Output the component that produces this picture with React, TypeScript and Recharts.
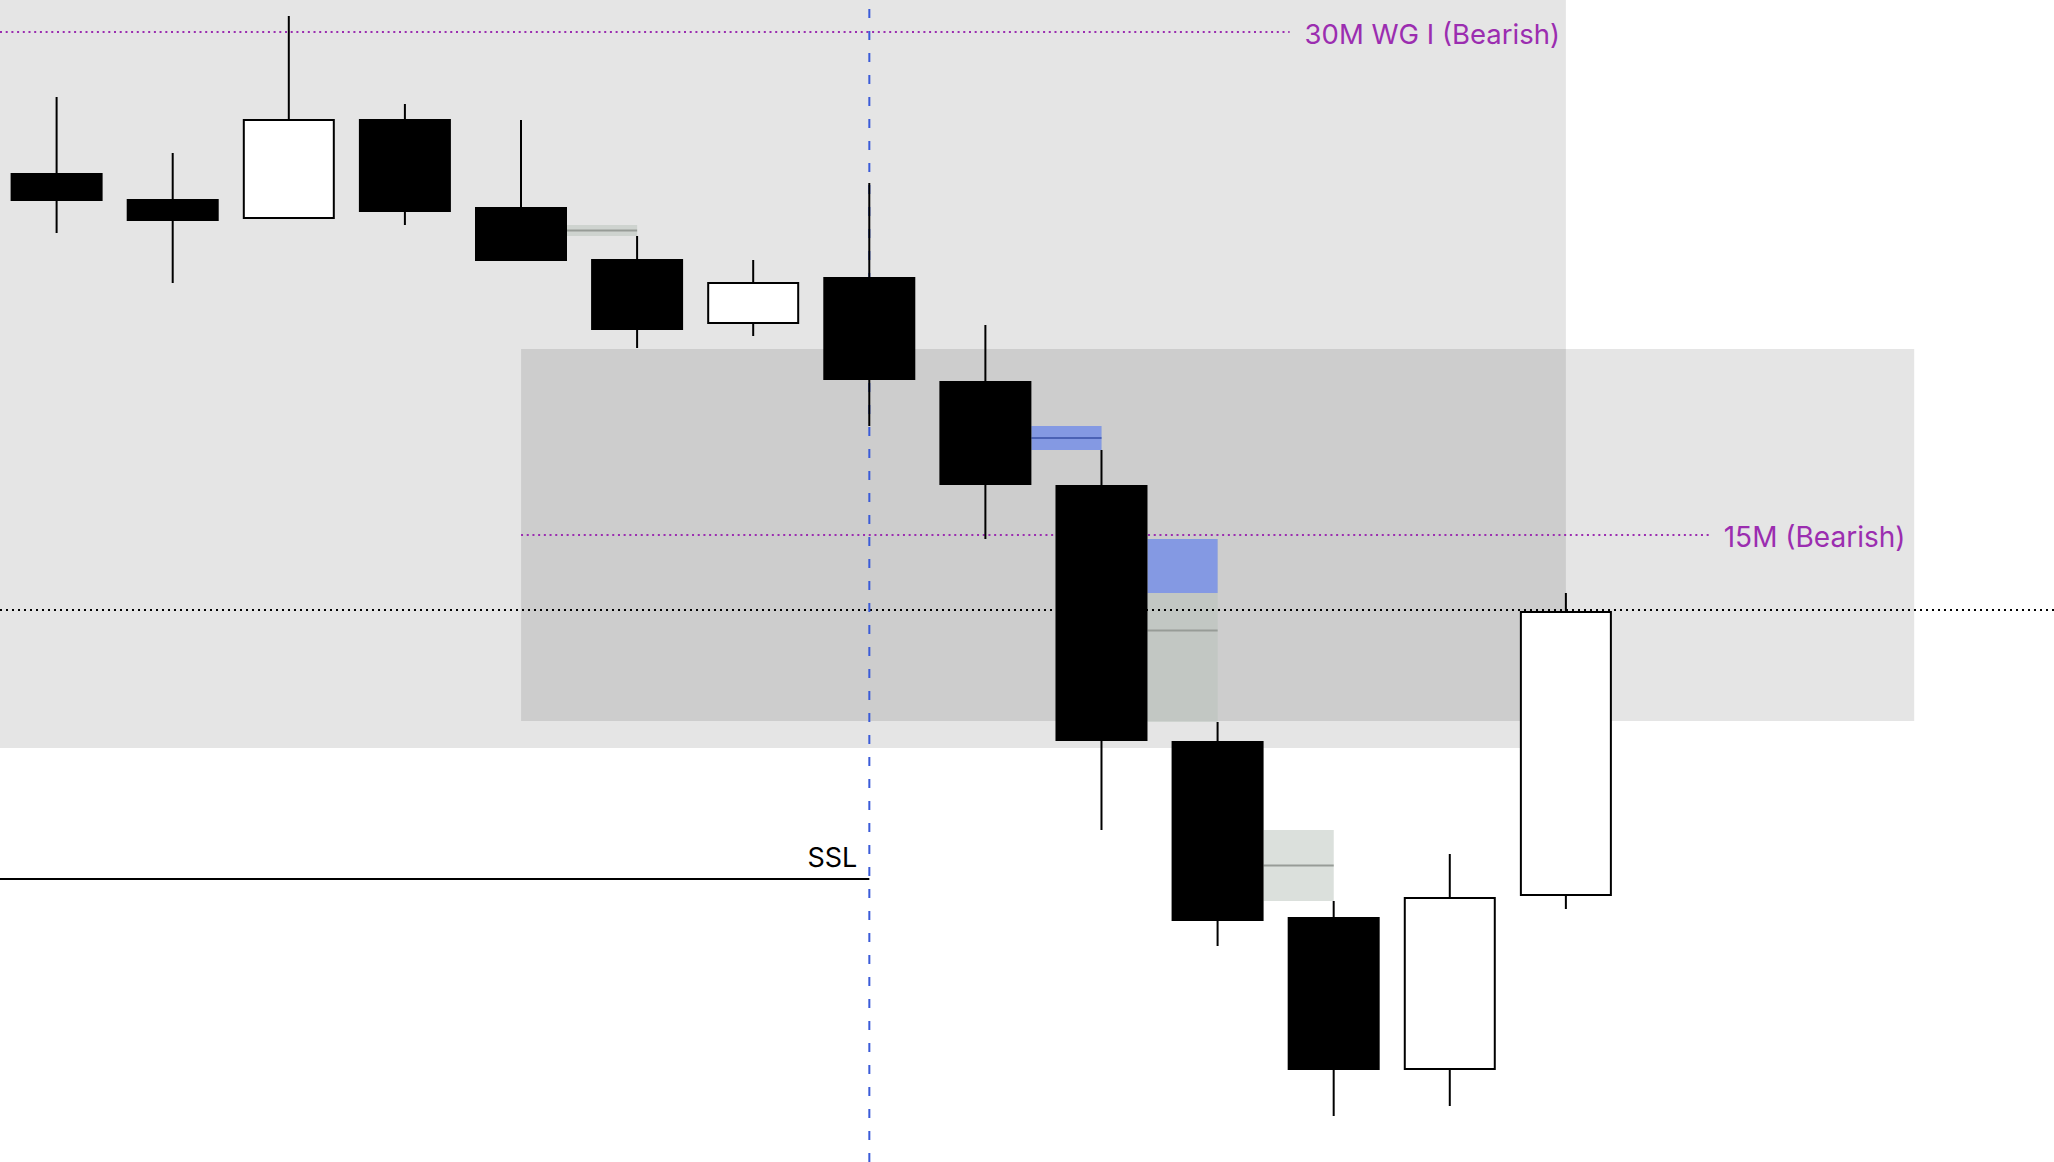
import { ComposedChart, Bar, XAxis, YAxis, ReferenceArea, ReferenceLine } from 'recharts';

const W = 2054;
const H = 1162;

// candles, oldest first (price units are arbitrary)
const candleIdx = [1, 2, 3, 4, 5, 6, 7, 8, 9, 10, 11, 12, 13, 14];
const opens = [98.9, 96.3, 94.3, 104.3, 95.5, 90.3, 83.8, 88.5, 78.1, 67.7, 42.1, 24.5, 9.2, 26.6];
const highs = [106.5, 100.9, 114.6, 105.8, 104.2, 92.6, 90.2, 97.9, 83.7, 71.2, 44.0, 26.1, 30.8, 56.9];
const lows = [92.9, 87.9, 94.3, 93.7, 90.1, 81.4, 82.6, 73.6, 62.3, 33.2, 21.6, 4.6, 5.6, 25.3];
const closes = [96.1, 94.1, 104.3, 95.0, 90.1, 83.2, 88.0, 78.2, 67.7, 42.1, 24.1, 9.2, 26.5, 55.1];

// fair value gaps: candle they open after, range, and how far down they are still unfilled
const fvgAfter = [5, 9, 10, 11];
const fvgHigh = [93.7, 73.6, 62.3, 33.2];
const fvgLow = [92.6, 71.2, 44.0, 26.1];
const fvgOpenTo: (number | null)[] = [null, 71.2, 56.9, null];

// higher timeframe zones: [from candle, to candle, low, high]
const zone30m = [0.512, 14, 41.4, 116.2];
const zone15m = [5, 17, 44.1, 81.3];

// levels
const wg30Level = 113.0;
const wg30End = 11.62;
const m15Level = 62.7;
const m15End = 15.23;
const keyLevel = 55.2;
const sslLevel = 28.3;
const markerCandle = 8;

const X_DOMAIN: [number, number] = [0.512, 18.204];
const Y_DOMAIN: [number, number] = [0, 116.2];
const BODY_HALF = 0.396;

const PURPLE = '#9b2db0';
const FONT = 'Inter, "Liberation Sans", sans-serif';

const data = candleIdx.map((t, i) => ({
  t,
  open: opens[i],
  high: highs[i],
  low: lows[i],
  close: closes[i],
}));

const Candle = (props: any) => {
  const { x, y, width, height, payload } = props;
  const { open, close, high, low } = payload;
  const k = height / (high - low);
  const yAt = (v: number) => y + (high - v) * k;
  const top = yAt(Math.max(open, close));
  const bottom = yAt(Math.min(open, close));
  const cx = x + width / 2;
  const bull = close > open;
  return (
    <g>
      <line x1={cx} x2={cx} y1={y} y2={y + height} stroke="#000" strokeWidth={2} />
      {bull ? (
        <rect x={x + 1} y={top + 1} width={width - 2} height={bottom - top - 2} fill="#fff" stroke="#000" strokeWidth={2} />
      ) : (
        <rect x={x} y={top} width={width} height={bottom - top} fill="#000" />
      )}
    </g>
  );
};

export default function App() {
  return (
    <div style={{ position: 'fixed', left: 0, top: 0, width: W, height: H, background: '#fff' }}>
      <ComposedChart width={W} height={H} data={data} margin={{ top: 0, right: 0, bottom: 0, left: 0 }}>
        <XAxis dataKey="t" type="number" domain={X_DOMAIN} allowDataOverflow hide />
        <YAxis type="number" domain={Y_DOMAIN} allowDataOverflow hide />

        {/* timeframe zones */}
        <ReferenceArea x1={zone30m[0]} x2={zone30m[1]} y1={zone30m[2]} y2={zone30m[3]}
          fill="#000" fillOpacity={0.1} stroke="none" ifOverflow="visible" zIndex={10} />
        <ReferenceArea x1={zone15m[0]} x2={zone15m[1]} y1={zone15m[2]} y2={zone15m[3]}
          fill="#000" fillOpacity={0.1} stroke="none" ifOverflow="visible" zIndex={10} />

        {/* fair value gaps */}
        {fvgAfter.map((c, i) => (
          <ReferenceArea key={`fvg-${i}`} x1={c + BODY_HALF} x2={c + 1} y1={fvgLow[i]} y2={fvgHigh[i]}
            fill="#b8c2ba" fillOpacity={0.5} stroke="none" ifOverflow="visible" zIndex={20} />
        ))}
        {fvgAfter.map((c, i) =>
          fvgOpenTo[i] == null ? null : (
            <ReferenceArea key={`open-${i}`} x1={c + BODY_HALF} x2={c + 1} y1={fvgOpenTo[i] as number} y2={fvgHigh[i]}
              fill="#8499e3" fillOpacity={1} stroke="none" ifOverflow="visible" zIndex={21} />
          )
        )}
        {fvgAfter.map((c, i) => {
          const mid = (fvgHigh[i] + fvgLow[i]) / 2;
          const open = fvgOpenTo[i] != null && mid > (fvgOpenTo[i] as number);
          return (
            <ReferenceLine key={`mid-${i}`} segment={[{ x: c + BODY_HALF, y: mid }, { x: c + 1, y: mid }]}
              stroke={open ? '#4b62b5' : '#979c97'} strokeWidth={2} ifOverflow="visible" zIndex={22} />
          );
        })}

        {/* levels */}
        <ReferenceLine segment={[{ x: X_DOMAIN[0], y: wg30Level }, { x: wg30End, y: wg30Level }]}
          stroke={PURPLE} strokeWidth={2} strokeDasharray="2 3.7" ifOverflow="visible" zIndex={30}
          label={{ value: '30M WG I (Bearish)', position: 'right', offset: 15, dy: 2, fill: PURPLE, fontSize: 27.5, fontFamily: FONT }} />
        <ReferenceLine segment={[{ x: zone15m[0], y: m15Level }, { x: m15End, y: m15Level }]}
          stroke={PURPLE} strokeWidth={2} strokeDasharray="2 3.7" ifOverflow="visible" zIndex={30}
          label={{ value: '15M (Bearish)', position: 'right', offset: 15, dy: 2, fill: PURPLE, fontSize: 28, fontFamily: FONT }} />
        <ReferenceLine y={keyLevel} stroke="#000" strokeWidth={2} strokeDasharray="2 4" ifOverflow="visible" zIndex={30} />
        <ReferenceLine x={markerCandle} stroke="#3a5bd8" strokeWidth={2} strokeDasharray="9 13" ifOverflow="visible" zIndex={30} />
        <ReferenceLine segment={[{ x: X_DOMAIN[0], y: sslLevel }, { x: markerCandle, y: sslLevel }]}
          stroke="#000" strokeWidth={2} ifOverflow="visible" zIndex={30}
          label={{ value: 'SSL', position: 'insideBottomRight', offset: 12, fill: '#000', fontSize: 27, fontFamily: FONT }} />

        <Bar dataKey={(d: any) => [d.low, d.high]} barSize={92} shape={Candle} isAnimationActive={false} zIndex={300} />
      </ComposedChart>
    </div>
  );
}
